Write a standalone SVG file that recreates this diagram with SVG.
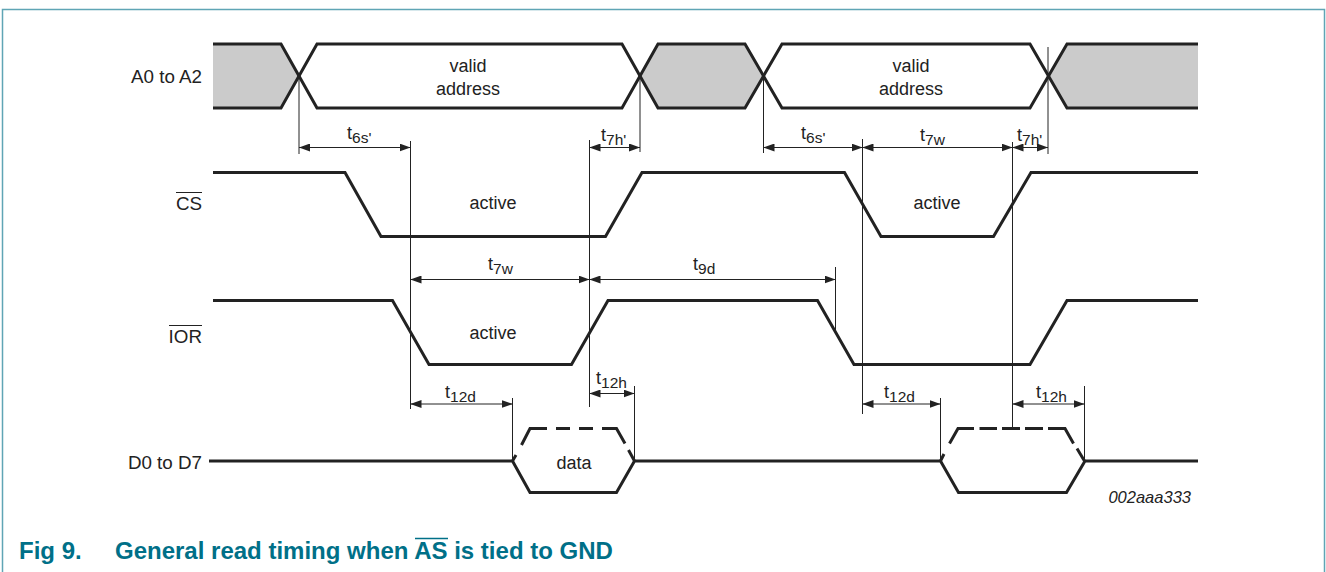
<svg xmlns="http://www.w3.org/2000/svg" width="1326" height="572" viewBox="0 0 1326 572">
<style>
text{font-family:"Liberation Sans",Arial,sans-serif;font-size:18px;fill:#222}
.m{text-anchor:middle}.e{text-anchor:end;font-size:18.800px}
.sub{font-size:15.500px}
.w{fill:none;stroke:#222;stroke-width:3;stroke-linejoin:miter}
.g{fill:#cbcbcb;stroke:none}
.x{fill:none;stroke:#222;stroke-width:1}
.d{fill:none;stroke:#222;stroke-width:1;marker-start:url(#a);marker-end:url(#a)}
.cap{font-weight:bold;font-size:24px;fill:#007088}
.o{stroke:#222;stroke-width:1;fill:none}
</style>
<defs>
<marker id="a" viewBox="0 0 11 8" refX="11" refY="4" markerWidth="11" markerHeight="8" markerUnits="userSpaceOnUse" orient="auto-start-reverse"><path d="M0 0L11 4L0 8Z" fill="#222"/></marker>
</defs>
<rect width="1326" height="572" fill="#fff"/>
<g id="frame"><path d="M2.500 572V9.500H1324.500V572" fill="none" stroke="#5fa5b5" stroke-width="1.500"/></g>
<g id="a0-a2">
<path class="g" d="M213 44H281L299 76L281 108H213Z"/>
<path class="g" d="M640 76L658 44H745L763.500 76L745 108H658Z"/>
<path class="g" d="M1048 76L1067 44H1198V108H1067Z"/>
<path class="w" d="M213 44H281L317 108H622L658 44H745L782 108H1030L1067 44H1198"/>
<path class="w" d="M213 108H281L317 44H622L658 108H745L782 44H1030L1067 108H1198"/>
<text class="e" x="202" y="83">A0 to A2</text>
<text class="m" x="468" y="72">valid</text><text class="m" x="468" y="95">address</text>
<text class="m" x="911" y="72">valid</text><text class="m" x="911" y="95">address</text>
</g>
<g id="cs">
<path class="w" d="M213 172.500H345L381 236.500H605.500L642 172.500H844.500L881 236.500H993.500L1031 172.500H1198"/>
<text class="e" x="202" y="210">CS</text><path class="o" d="M176 192.500H202"/>
<text class="m" x="493" y="209">active</text><text class="m" x="937" y="209">active</text>
</g>
<g id="ior">
<path class="w" d="M213 300.500H392.500L429 364.500H571.500L608 300.500H817.500L854 364.500H1030L1067 300.500H1198"/>
<text class="e" x="202" y="343">IOR</text><path class="o" d="M169 325.500H202"/>
<text class="m" x="493" y="339">active</text>
</g>
<g id="d0-d7">
<path class="w" d="M209 461H512.500L530 492.500H616.500L634.500 461H940.500L958.500 492.500H1066.500L1085 461H1198"/>
<path class="w" d="M512.500 461L516 455M521.500 445L530 428.500H547M556 428.500H570M579 428.500H593M602 428.500H616.500L625 443.500M628.500 450L634.500 461"/>
<path class="w" d="M940.500 461L944 454M949.500 443.500L958 428.500H974M979.500 428.500H997M1002 428.500H1020M1025 428.500H1043M1048 428.500H1065L1073.500 443.500M1077 448.500L1084.500 461"/>
<text class="e" x="202" y="469">D0 to D7</text>
<text class="m" x="574" y="469">data</text>
</g>
<g id="connectors">
<path class="x" d="M299 76V154M410.500 141V409M589.500 140V407M640 76V152M763.500 76V153M862.500 139V414M1012.500 142V428M1048 47V154M835.500 267V332M512.500 398V461M634.500 386V461M940.500 398V461M1084.500 386V461"/>
<path class="d" d="M299 147.500H410.500"/><path class="d" d="M589.500 147.500H640"/><path class="d" d="M763.500 147.500H862.500"/><path class="d" d="M862.500 147.500H1012.500"/><path class="d" d="M1012.500 147.500H1048"/>
<path class="d" d="M410.500 279.500H589.500"/><path class="d" d="M589.500 279.500H835.500"/>
<path class="d" d="M410.500 404H512.500"/><path class="d" d="M862.500 404H940.500"/><path class="d" d="M1012.500 404H1084.500"/><path class="d" d="M589.500 393.500H634.500"/>
</g>
<g id="labels">
<text x="347" y="139">t<tspan class="sub" dy="4">6s'</tspan></text>
<text x="601" y="141">t<tspan class="sub" dy="4">7h'</tspan></text>
<text x="801" y="139">t<tspan class="sub" dy="4">6s'</tspan></text>
<text x="920" y="141">t<tspan class="sub" dy="4">7w</tspan></text>
<text x="1017" y="141">t<tspan class="sub" dy="4">7h'</tspan></text>
<text x="488" y="270">t<tspan class="sub" dy="4">7w</tspan></text>
<text x="693" y="270">t<tspan class="sub" dy="4">9d</tspan></text>
<text x="445" y="398">t<tspan class="sub" dy="4">12d</tspan></text>
<text x="596" y="384">t<tspan class="sub" dy="4">12h</tspan></text>
<text x="884" y="398">t<tspan class="sub" dy="4">12d</tspan></text>
<text x="1036" y="398">t<tspan class="sub" dy="4">12h</tspan></text>
<text x="1191" y="503" style="font-style:italic;font-size:16.500px" text-anchor="end">002aaa333</text>
</g>
<g id="caption">
<text class="cap" x="19" y="558.500">Fig 9.</text>
<text class="cap" x="115" y="558.500">General read timing when AS is tied to GND</text>
<path d="M415 538.500H448" stroke="#007088" stroke-width="1.500" fill="none"/>
</g>
</svg>
